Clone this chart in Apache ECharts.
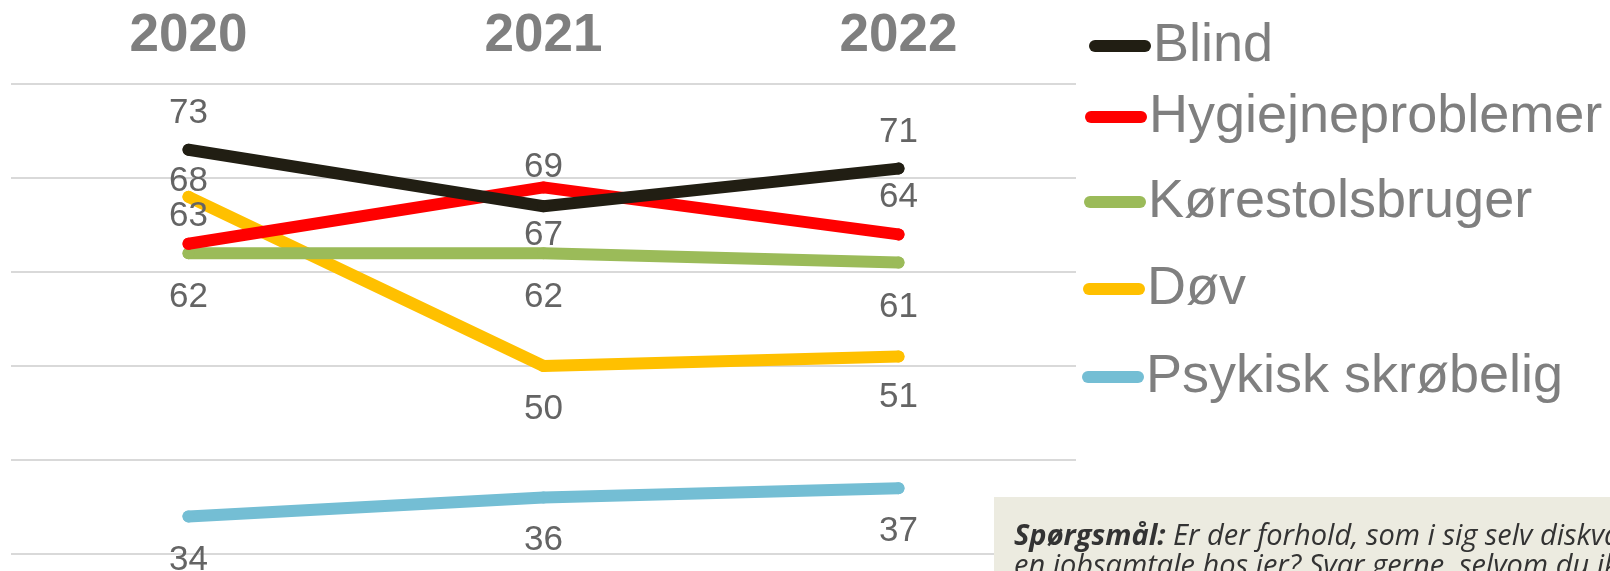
<!DOCTYPE html>
<html>
<head>
<meta charset="utf-8">
<script src="https://cdn.jsdelivr.net/npm/echarts@6/dist/echarts.min.js"></script>
<style>
    html, body { margin: 0; padding: 0; background: #fff; }
    #main { width: 1610px; height: 571px; }
</style>
</head>
<body>
<div id="main"></div>
<script>
    // data
    const years = ['2020', '2021', '2022'];
    const names = ['Blind', 'Hygiejneproblemer', 'Kørestolsbruger', 'Døv', 'Psykisk skrøbelig'];
    const blind = [73, 67, 71];
    const hygiejne = [63, 69, 64];
    const korestol = [62, 62, 61];
    const dov = [68, 50, 51];
    const psykisk = [34, 36, 37];
    const yTicks = [30, 40, 50, 60, 70, 80];

    // styling (kept apart from data)
    const colors = ['#211e13', '#ff0000', '#9bbb59', '#ffc000', '#74bed4'];
    const labelDy = [
        [-36, 29, -36],
        [-27, -20, -37],
        [44, 44, 45],
        [-15, 43, 41],
        [44, 43, 43]
    ];
    const legendTops = [19, 90, 175, 262, 350];
    const legendLefts = [1089, 1085, 1084, 1083, 1082];

    const values = [blind, hygiejne, korestol, dov, psykisk];

    const series = names.map(function (name, i) {
        return {
            name: name,
            type: 'line',
            z: 10 - i,
            symbol: 'circle',
            symbolSize: 12,
            lineStyle: {width: 12, color: colors[i], cap: 'round', join: 'round'},
            itemStyle: {color: colors[i], borderWidth: 0},
            emphasis: {disabled: true},
            label: {
                show: true,
                position: 'inside',
                fontFamily: 'Liberation Sans, Arial, sans-serif',
                fontSize: 35,
                color: '#646464'
            },
            data: values[i].map(function (v, j) {
                return {value: v, label: {offset: [0, labelDy[i][j]]}};
            })
        };
    });

    const legendIcon = 'path://M6,0 H56 A6,6 0 0 1 56,12 H6 A6,6 0 0 1 6,0 Z';
    const legends = names.map(function (name, i) {
        return {
            data: [name],
            left: legendLefts[i],
            top: legendTops[i],
            padding: 0,
            icon: legendIcon,
            itemWidth: 62,
            itemHeight: 12,
            selectedMode: false,
            textStyle: {
                fontFamily: 'Liberation Sans, Arial, sans-serif',
                fontSize: 54,
                color: '#7f7f7f',
                padding: [0, 0, 0, -3]
            }
        };
    });

    const option = {
        animation: false,
        backgroundColor: '#ffffff',
        color: colors,
        grid: {left: 11, right: 534, top: 84, bottom: 17},
        legend: legends,
        xAxis: {
            type: 'category',
            position: 'top',
            boundaryGap: true,
            data: years,
            axisLine: {show: false},
            axisTick: {show: false},
            splitLine: {show: false},
            axisLabel: {
                margin: 21,
                fontFamily: 'Liberation Sans, Arial, sans-serif',
                fontWeight: 'bold',
                fontSize: 53,
                color: '#7f7f7f'
            }
        },
        yAxis: {
            type: 'value',
            min: yTicks[0],
            max: yTicks[yTicks.length - 1],
            interval: 10,
            axisLine: {show: false},
            axisTick: {show: false},
            axisLabel: {show: false},
            splitLine: {lineStyle: {color: '#d9d9d9', width: 2}}
        },
        graphic: [
            {
                type: 'rect',
                left: 994,
                top: 497,
                shape: {width: 616, height: 74},
                style: {fill: '#ecebe0'},
                z: 100
            },
            {
                type: 'text',
                left: 1014,
                top: 522,
                z: 101,
                style: {
                    text: '{b|Spørgsmål:} Er der forhold, som i sig selv diskvalificerer\nen jobsamtale hos jer? Svar gerne, selvom du ikke',
                    font: 'italic 29px "Open Sans", sans-serif',
                    fill: '#333333',
                    lineHeight: 30,
                    rich: {
                        b: {font: 'italic bold 29px "Open Sans", sans-serif', fill: '#333333', lineHeight: 30}
                    }
                }
            }
        ],
        series: series
    };

    const myChart = echarts.init(document.getElementById('main'));
    myChart.setOption(option);
</script>
</body>
</html>
